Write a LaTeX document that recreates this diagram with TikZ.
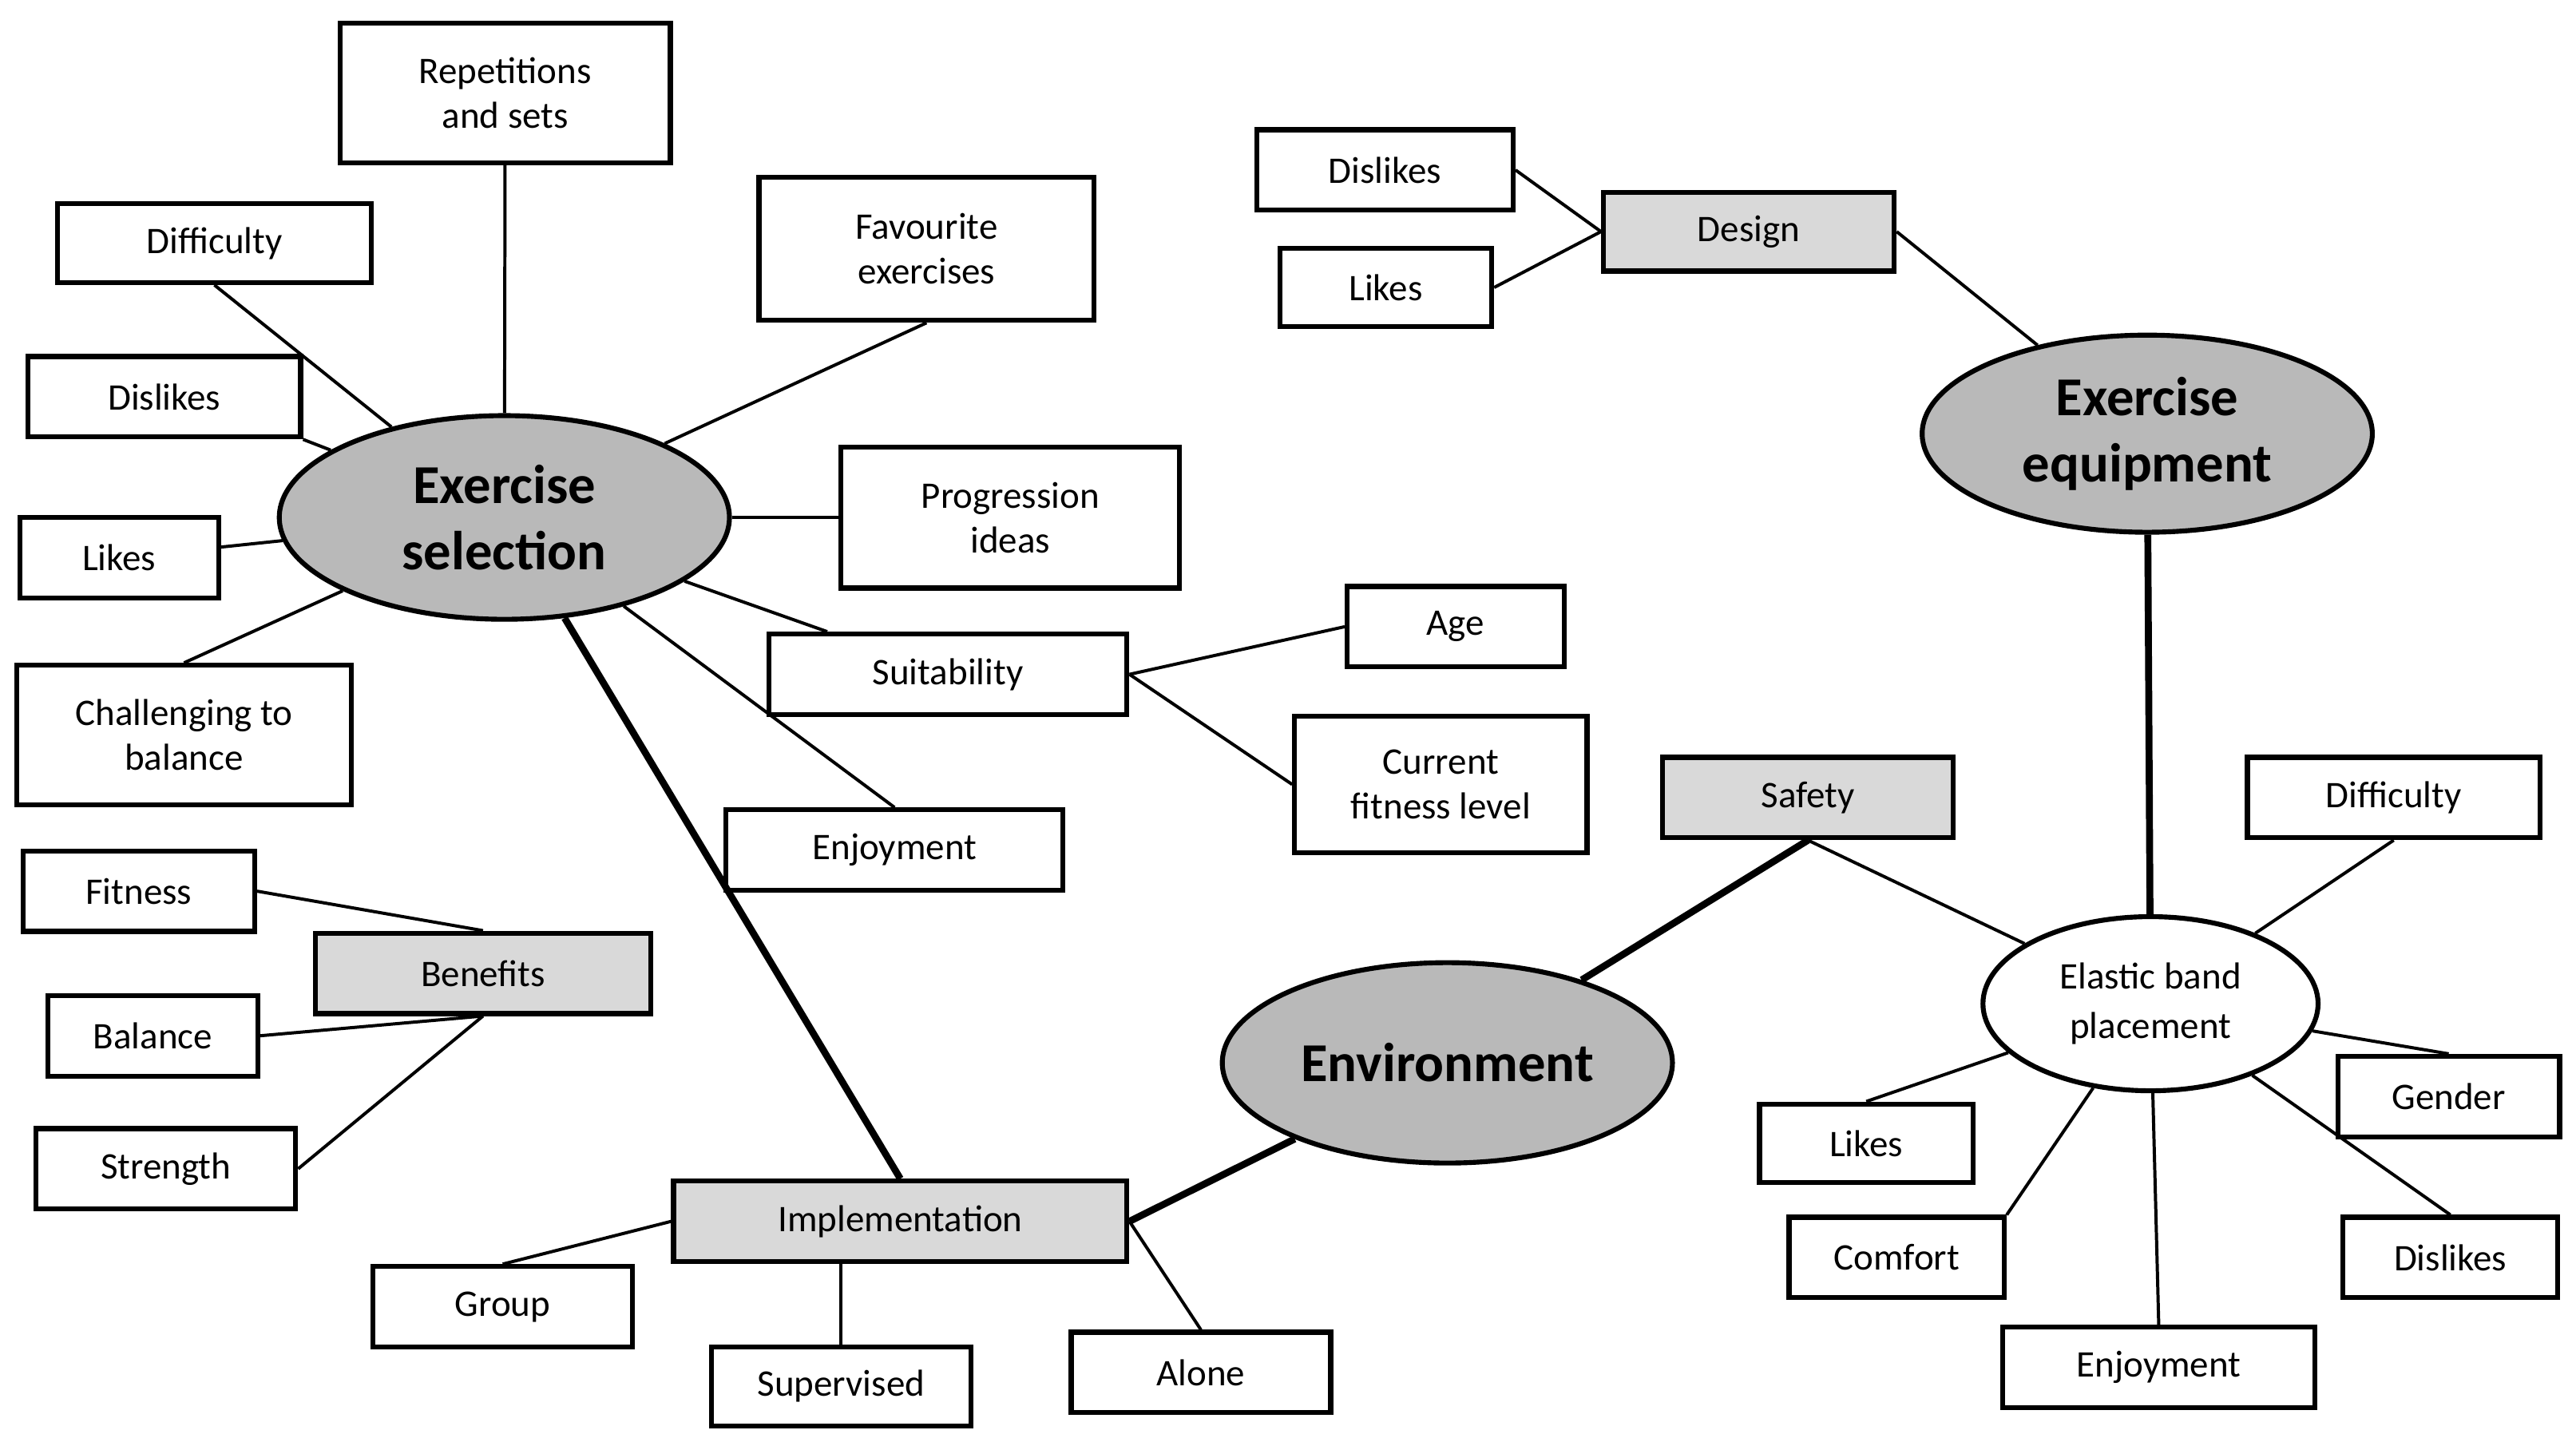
\documentclass[tikz,border=0pt]{standalone}
\usepackage{fontspec}
\setmainfont{Carlito}
\usetikzlibrary{shapes.geometric}
\begin{document}
\begin{tikzpicture}[x=0.02cm,y=-0.02cm,
 sz/.style 2 args={minimum width=#1*0.02cm,minimum height=#2*0.02cm},
 box/.style={draw,line width=1.7pt,fill=white,align=center,inner sep=0pt,font=\fontsize{13}{15.5}\selectfont},
 gbox/.style={box,fill=gray!30},
 ell/.style={ellipse,draw,line width=1.7pt,fill=gray!55,align=center,inner sep=0pt,font=\fontsize{19}{23}\selectfont\bfseries},
 ln/.style={line width=1.1pt},
 tk/.style={line width=2.4pt}]
\useasboundingbox (0,0) rectangle (1568,875);
\node[ell,sz={274}{124}] (es) at (307,315) {Exercise\\selection};
\node[ell,sz={274}{122}] (env) at (881,647) {Environment};
\node[ell,sz={274}{120}] (ee) at (1307,264) {Exercise\\equipment};
\node[ellipse,draw,line width=1.7pt,fill=white,align=center,inner sep=0pt,font=\fontsize{13}{17}\selectfont,sz={204}{106}] (el) at (1309,611) {Elastic band\\placement};

\node[box,sz={201}{85}] (rep) at (307.5,56.5) {Repetitions\\and sets};
\node[box,sz={191}{48}] (diff1) at (130.5,148) {Difficulty};
\node[box,sz={204}{87}] (fav) at (564,151.5) {Favourite\\exercises};
\node[box,sz={166}{49}] (dis1) at (100,241.5) {Dislikes};
\node[box,sz={206}{86}] (prog) at (615,315) {Progression\\ideas};
\node[box,sz={121}{49}] (likes1) at (72.5,339.5) {Likes};
\node[box,sz={204}{85}] (chal) at (112,447.5) {Challenging to\\balance};
\node[box,sz={218}{49}] (suit) at (577,410.5) {Suitability};
\node[box,sz={132}{49}] (age) at (886,381.5) {Age};
\node[box,sz={178}{83}] (cfl) at (877,477.5) {Current\\fitness level};
\node[box,sz={205}{49}] (enj1) at (544.5,517.5) {Enjoyment};
\node[box,sz={141}{49}] (fit) at (84.5,542.5) {Fitness};
\node[gbox,sz={204}{49}] (ben) at (294,592.5) {Benefits};
\node[box,sz={128}{49}] (bal) at (93,630.5) {Balance};
\node[box,sz={158}{49}] (str) at (101,711.5) {Strength};
\node[gbox,sz={276}{49}] (impl) at (548,743.5) {Implementation};
\node[box,sz={158}{49}] (grp) at (306,795.5) {Group};
\node[box,sz={158}{48}] (sup) at (512,844) {Supervised};
\node[box,sz={158}{49}] (alone) at (731,835.5) {Alone};
\node[gbox,sz={177}{49}] (saf) at (1100.5,485.5) {Safety};
\node[box,sz={178}{49}] (diff2) at (1457,485.5) {Difficulty};
\node[box,sz={135}{49}] (gen) at (1490.5,667.5) {Gender};
\node[box,sz={130}{48}] (likes3) at (1136,696) {Likes};
\node[box,sz={131}{49}] (com) at (1154.5,765.5) {Comfort};
\node[box,sz={131}{49}] (dis3) at (1491.5,765.5) {Dislikes};
\node[box,sz={190}{49}] (enj3) at (1314,832.5) {Enjoyment};
\node[gbox,sz={177}{48}] (des) at (1064.5,141) {Design};
\node[box,sz={156}{49}] (dis2) at (843,103.5) {Dislikes};
\node[box,sz={129}{48}] (likes2) at (843.5,175) {Likes};

\draw[ln] (diff1.south) -- (es);
\draw[ln] (rep) -- (es);
\draw[ln] (fav.south) -- (es);
\draw[ln] (dis1.south east) -- (es);
\draw[ln] (prog) -- (es);
\draw[ln] (likes1) -- (es);
\draw[ln] (chal.north) -- (es);
\draw[ln] (suit) -- (es);
\draw[ln] (enj1.north) -- (es);
\draw[tk] (es) -- (impl.north);
\draw[ln] (suit.east) -- (age.west);
\draw[ln] (suit.east) -- (cfl.west);
\draw[ln] (fit.east) -- (ben.north);
\draw[ln] (bal.east) -- (ben.south);
\draw[ln] (str.east) -- (ben.south);
\draw[ln] (impl.west) -- (grp.north);
\draw[ln] (impl.south) ++(-36,0) coordinate (s1) -- (s1 |- sup.north);
\draw[ln] (impl.east) -- (alone.north);
\draw[tk] (impl.east) -- (env);
\draw[tk] (env) -- (saf.south);
\draw[ln] (saf.south) -- (el);
\draw[ln] (el) -- (diff2.south);
\draw[ln] (el) -- (gen.north);
\draw[ln] (el) -- (likes3.north);
\draw[ln] (el) -- (com.north east);
\draw[ln] (el) -- (dis3.north);
\draw[ln] (el) -- (enj3.north);
\draw[tk] (ee) -- (el);
\draw[ln] (dis2.east) -- (des.west);
\draw[ln] (likes2.east) -- (des.west);
\draw[ln] (des.east) -- (ee);
\end{tikzpicture}
\end{document}
